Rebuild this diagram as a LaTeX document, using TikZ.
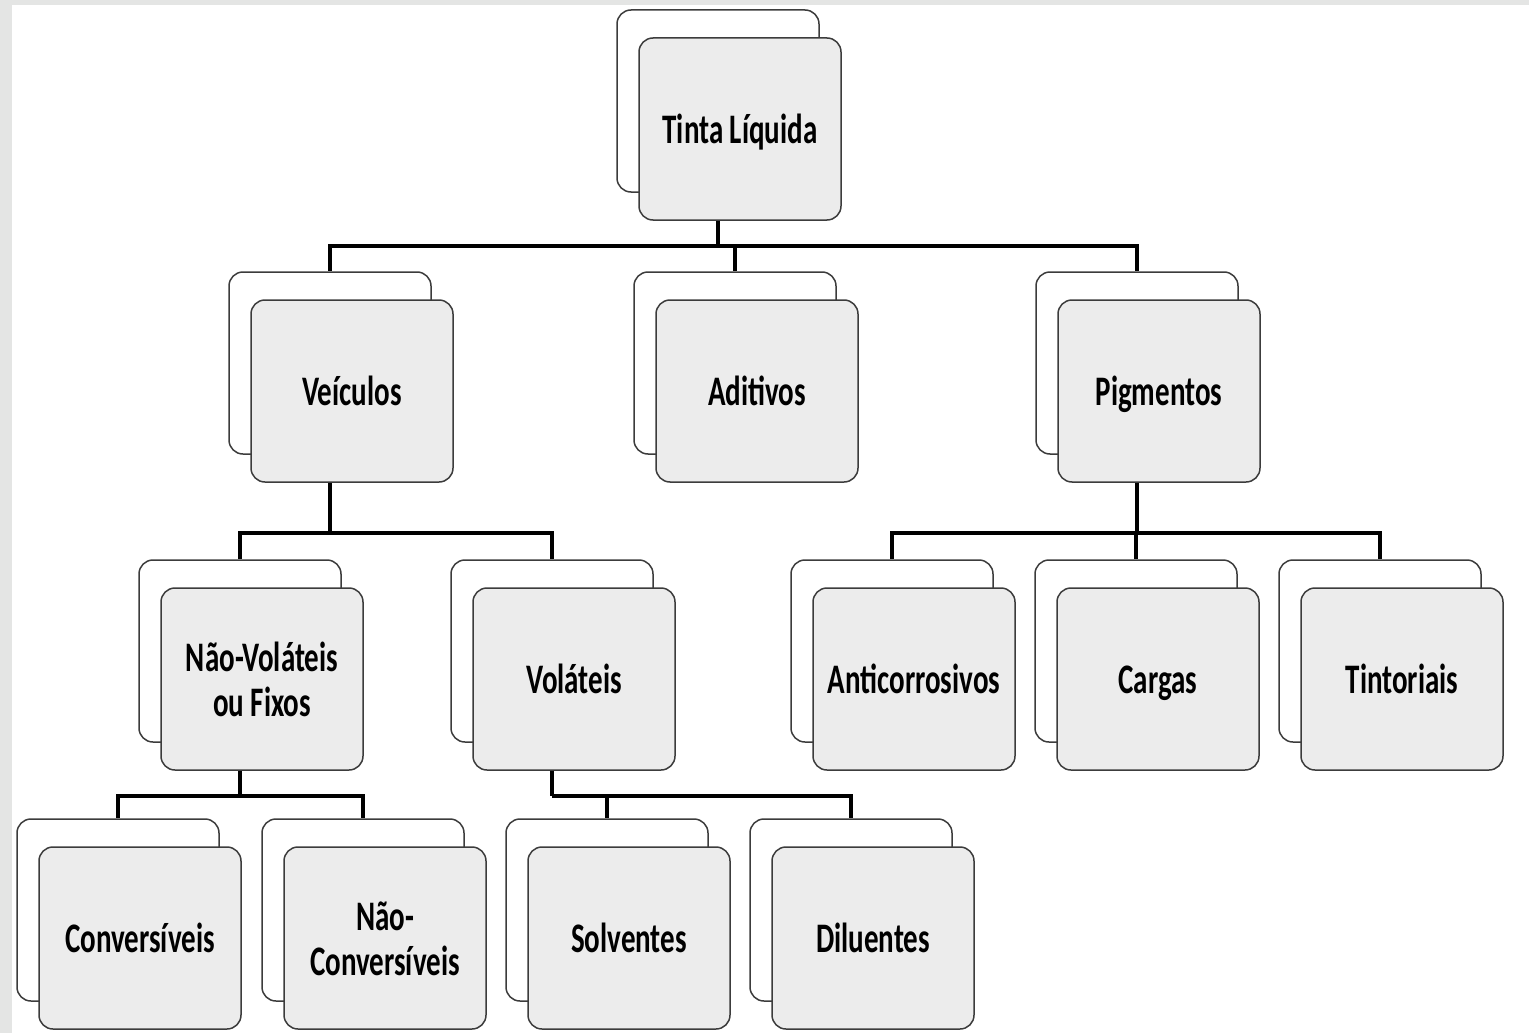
\documentclass[tikz,border=0pt]{standalone}
\usepackage{fontspec}
\setmainfont{Carlito}
\usetikzlibrary{shadows}
\definecolor{cardgray}{HTML}{ECECEC}
\definecolor{edgegray}{HTML}{3C3C3C}
\definecolor{stripgray}{HTML}{E4E5E4}
\newcommand{\cardtxt}[1]{\raisebox{0pt}[\dimexpr\height+12pt\relax][\depth]{\scalebox{1}[1.45]{\begin{tabular}{@{}c@{}}#1\end{tabular}}}}
\begin{document}
\begin{tikzpicture}[x=1pt,y=-1pt,
card/.style={draw=edgegray,line width=1.5pt,fill=cardgray,rounded corners=14pt,
  minimum width=202pt,minimum height=182pt,inner sep=0pt,
  font=\fontsize{29}{31}\selectfont\bfseries,
  copy shadow={shadow xshift=-22pt,shadow yshift=28pt,fill=white,draw=edgegray,line width=1.5pt,opacity=1}},
link/.style={line width=3.5pt}]
% background
\fill[stripgray] (0,0) rectangle (1529,1033);
\fill[white] (12,5) rectangle (1529,1033);
\useasboundingbox (0,0) rectangle (1529,1033);
% cards
\node[card] (tinta) at (740,129) {\cardtxt{Tinta Líquida}};
\node[card] (veic) at (352,391) {\cardtxt{Veículos}};
\node[card] (adit) at (757,391) {\cardtxt{Aditivos}};
\node[card] (pigm) at (1159,391) {\cardtxt{Pigmentos}};
\node[card] (naovol) at (262,679) {\cardtxt{Não-Voláteis\\ou Fixos}};
\node[card] (volat) at (574,679) {\cardtxt{Voláteis}};
\node[card] (antic) at (914,679) {\cardtxt{Anticorrosivos}};
\node[card] (cargas) at (1158,679) {\cardtxt{Cargas}};
\node[card] (tintor) at (1402,679) {\cardtxt{Tintoriais}};
\node[card] (conv) at (140,938) {\cardtxt{Conversíveis}};
\node[card] (naoconv) at (385,938) {\cardtxt{Não-\\Conversíveis}};
\node[card] (solv) at (629,938) {\cardtxt{Solventes}};
\node[card] (dilu) at (873,938) {\cardtxt{Diluentes}};
% links
\draw[link] ([shift={(-22,0)}]tinta.south) -- ++(0,25) coordinate (j1);
\draw[link] (j1) -| ([shift={(-22,-28)}]veic.north);
\draw[link] (j1) -| ([shift={(-22,-28)}]adit.north);
\draw[link] (j1) -| ([shift={(-22,-28)}]pigm.north);
\draw[link] ([shift={(-22,0)}]veic.south) -- ++(0,50) coordinate (j2);
\draw[link] (j2) -| ([shift={(-22,-28)}]naovol.north);
\draw[link] (j2) -| ([shift={(-22,-28)}]volat.north);
\draw[link] ([shift={(-22,0)}]pigm.south) -- ++(0,50) coordinate (j3);
\draw[link] (j3) -| ([shift={(-22,-28)}]antic.north);
\draw[link] (j3) -| ([shift={(-22,-28)}]cargas.north);
\draw[link] (j3) -| ([shift={(-22,-28)}]tintor.north);
\draw[link] ([shift={(-22,0)}]naovol.south) -- ++(0,25) coordinate (j4);
\draw[link] (j4) -| ([shift={(-22,-28)}]conv.north);
\draw[link] (j4) -| ([shift={(-22,-28)}]naoconv.north);
\draw[link] ([shift={(-22,0)}]volat.south) -- ++(0,25) coordinate (j5);
\draw[link] (j5) -| ([shift={(-22,-28)}]solv.north);
\draw[link] (j5) -| ([shift={(-22,-28)}]dilu.north);
\end{tikzpicture}
\end{document}
